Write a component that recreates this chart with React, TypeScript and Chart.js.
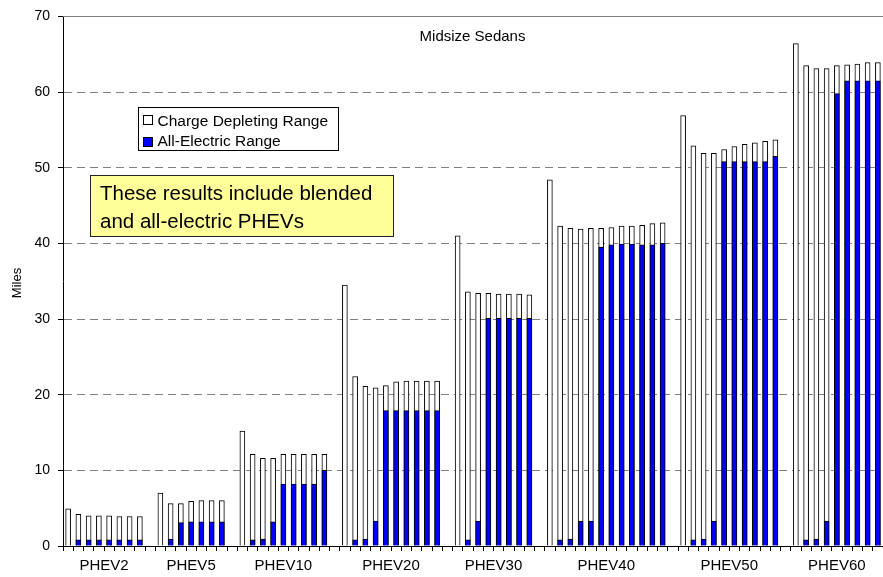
import React, { useEffect, useRef } from 'react';
import { Chart, registerables } from 'chart.js';

Chart.register(...registerables);

const groupLabels = ['PHEV2', 'PHEV5', 'PHEV10', 'PHEV20', 'PHEV30', 'PHEV40', 'PHEV50', 'PHEV60'];

const cdPHEV2 = [4.9, 4.2, 4.0, 4.0, 4.0, 3.9, 3.9, 3.9];
const aerPHEV2 = [0, 0.8, 0.8, 0.8, 0.8, 0.8, 0.8, 0.8];
const cdPHEV5 = [7.0, 5.6, 5.6, 5.9, 6.0, 6.0, 6.0];
const aerPHEV5 = [0, 0.9, 3.1, 3.2, 3.2, 3.2, 3.2];
const cdPHEV10 = [15.2, 12.1, 11.6, 11.6, 12.1, 12.1, 12.1, 12.1, 12.1];
const aerPHEV10 = [0, 0.8, 0.9, 3.2, 8.2, 8.2, 8.2, 8.2, 10.0];
const cdPHEV20 = [34.5, 22.4, 21.1, 20.9, 21.2, 21.7, 21.8, 21.8, 21.8, 21.8];
const aerPHEV20 = [0, 0.8, 0.9, 3.3, 17.9, 17.9, 17.9, 17.9, 17.9, 17.9];
const cdPHEV30 = [41.0, 33.6, 33.4, 33.4, 33.3, 33.3, 33.3, 33.2];
const aerPHEV30 = [0, 0.8, 3.3, 30.1, 30.1, 30.1, 30.1, 30.1];
const cdPHEV40 = [48.4, 42.3, 42.0, 41.9, 42.0, 42.0, 42.1, 42.3, 42.3, 42.4, 42.6, 42.7];
const aerPHEV40 = [0, 0.8, 0.9, 3.3, 3.3, 39.5, 39.8, 39.9, 39.9, 39.8, 39.8, 40.0];
const cdPHEV50 = [56.9, 52.9, 51.9, 51.9, 52.4, 52.8, 53.1, 53.3, 53.5, 53.7];
const aerPHEV50 = [0, 0.8, 0.9, 3.3, 50.8, 50.8, 50.8, 50.8, 50.8, 51.5];
const cdPHEV60 = [66.4, 63.5, 63.1, 63.1, 63.5, 63.6, 63.7, 63.9, 63.9];
const aerPHEV60 = [0, 0.8, 0.9, 3.3, 59.8, 61.5, 61.5, 61.5, 61.5];

const yTicks = [0, 10, 20, 30, 40, 50, 60, 70];

const FONT = '"Liberation Sans", Arial, Helvetica, sans-serif';

export default function App() {
  const ref = useRef<HTMLCanvasElement>(null);

  useEffect(() => {
    const cdGroups = [cdPHEV2, cdPHEV5, cdPHEV10, cdPHEV20, cdPHEV30, cdPHEV40, cdPHEV50, cdPHEV60];
    const aerGroups = [aerPHEV2, aerPHEV5, aerPHEV10, aerPHEV20, aerPHEV30, aerPHEV40, aerPHEV50, aerPHEV60];
    const labels: string[] = [];
    const cd: (number | null)[] = [];
    const aer: (number | null)[] = [];
    const spans: { label: string; first: number; last: number }[] = [];
    groupLabels.forEach((g, gi) => {
      if (gi > 0) {
        labels.push('');
        cd.push(null);
        aer.push(null);
      }
      const first = labels.length;
      cdGroups[gi].forEach((v, i) => {
        labels.push(g + ' #' + (i + 1));
        cd.push(v);
        const a = aerGroups[gi][i];
        aer.push(a > 0 ? a : null);
      });
      spans.push({ label: g, first, last: labels.length - 1 });
    });

    const textPlugin = {
      id: 'texts',
      afterDraw(chart: any) {
        const ctx = chart.ctx as CanvasRenderingContext2D;
        const area = chart.chartArea;
        const xs = chart.scales.x;
        ctx.save();
        // top border line (solid)
        ctx.strokeStyle = '#808080';
        ctx.lineWidth = 1;
        ctx.beginPath();
        ctx.moveTo(area.left, Math.round(area.top) + 0.5);
        ctx.lineTo(area.right, Math.round(area.top) + 0.5);
        ctx.stroke();

        ctx.fillStyle = '#000';
        // title
        ctx.font = '15px ' + FONT;
        ctx.textAlign = 'center';
        ctx.textBaseline = 'alphabetic';
        ctx.fillText('Midsize Sedans', 472.5, 41);

        // group labels
        ctx.font = '15px ' + FONT;
        spans.forEach((s) => {
          const x = (xs.getPixelForValue(s.first) + xs.getPixelForValue(s.last)) / 2;
          ctx.fillText(s.label, x, 570);
        });

        // y axis title
        ctx.save();
        ctx.translate(21, 283);
        ctx.rotate(-Math.PI / 2);
        ctx.font = '13px ' + FONT;
        ctx.textAlign = 'center';
        ctx.textBaseline = 'alphabetic';
        ctx.fillText('Miles', 0, 0);
        ctx.restore();

        // legend
        ctx.fillStyle = '#fff';
        ctx.fillRect(138.5, 107.5, 200, 43);
        ctx.strokeStyle = '#000';
        ctx.lineWidth = 1;
        ctx.strokeRect(138.5, 107.5, 200, 43);
        ctx.fillStyle = '#fff';
        ctx.fillRect(143.5, 115.5, 9, 9);
        ctx.strokeRect(143.5, 115.5, 9, 9);
        ctx.fillStyle = '#0000ff';
        ctx.fillRect(143.5, 137.5, 9, 9);
        ctx.strokeRect(143.5, 137.5, 9, 9);
        ctx.fillStyle = '#000';
        ctx.font = '15.5px ' + FONT;
        ctx.textAlign = 'left';
        ctx.fillText('Charge Depleting Range', 157.5, 125.5);
        ctx.fillText('All-Electric Range', 157.5, 146);

        // annotation
        ctx.fillStyle = '#ffff99';
        ctx.fillRect(90.5, 175.5, 303, 61);
        ctx.strokeStyle = '#222';
        ctx.strokeRect(90.5, 175.5, 303, 61);
        ctx.fillStyle = '#000';
        ctx.font = '20.5px ' + FONT;
        ctx.fillText('These results include blended', 100, 200);
        ctx.fillText('and all-electric PHEVs', 100, 228);
        ctx.restore();
      },
    };

    const chart = new Chart(ref.current as HTMLCanvasElement, {
      type: 'bar',
      data: {
        labels,
        datasets: [
          {
            label: 'All-Electric Range',
            data: aer,
            backgroundColor: '#0000ff',
            borderColor: '#000',
            borderWidth: 1,
            barThickness: 5,
            order: 0,
          },
          {
            label: 'Charge Depleting Range',
            data: cd,
            backgroundColor: '#ffffff',
            borderColor: '#000',
            borderWidth: 1,
            barThickness: 5,
            order: 1,
          },
        ],
      },
      options: {
        responsive: false,
        animation: false,
        layout: { padding: { top: 14, right: 0, left: 0, bottom: 0 } },
        plugins: {
          legend: { display: false },
          tooltip: { enabled: false },
          title: { display: false },
        },
        scales: {
          x: {
            stacked: true,
            offset: true,
            afterFit: (s: any) => {
              s.height = 31;
            },
            grid: {
              offset: true,
              drawOnChartArea: false,
              drawTicks: true,
              tickLength: 5,
              tickColor: '#000',
              color: '#000',
            },
            border: { color: '#000', width: 1 },
            ticks: { display: false, autoSkip: false },
          },
          y: {
            stacked: false,
            min: 0,
            max: 70,
            afterFit: (s: any) => {
              s.width = 63;
            },
            afterBuildTicks: (s: any) => {
              s.ticks = yTicks.map((v) => ({ value: v }));
            },
            grid: {
              color: (c: any) => (c.tick && (c.tick.value === 0 || c.tick.value === 70) ? 'rgba(0,0,0,0)' : '#808080'),
              lineWidth: 1,
              drawTicks: true,
              tickLength: 5,
              tickColor: '#000',
            },
            border: { color: '#000', width: 1, dash: [8, 5] },
            ticks: {
              padding: 8,
              color: '#000',
              font: { family: FONT, size: 14 },
            },
          },
        },
      },
      plugins: [textPlugin],
    } as any);

    return () => chart.destroy();
  }, []);

  return (
    <div style={{ position: 'fixed', left: 0, top: 0, width: 883, height: 577, background: '#fff' }}>
      <canvas ref={ref} width={883} height={577} style={{ display: 'block' }} />
    </div>
  );
}
